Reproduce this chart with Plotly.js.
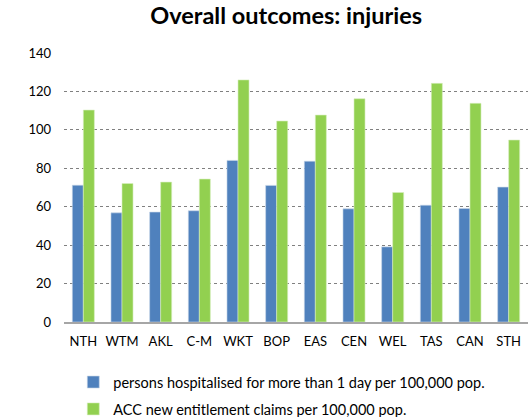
<!DOCTYPE html>
<html>
<head>
<meta charset="utf-8">
<script src="https://cdn.plot.ly/plotly-3.0.1.min.js"></script>
<style>
  body { margin: 0; padding: 0; background: #fff; }
  #chart { width: 529px; height: 417px; }
</style>
</head>
<body>
<div id="chart"></div>
<script>
// regions (DHB areas)
var regions = ["NTH", "WTM", "AKL", "C-M", "WKT", "BOP", "EAS", "CEN", "WEL", "TAS", "CAN", "STH"];

// persons hospitalised > 1 day per 100,000
var hospitalised = [71.2, 56.8, 57.2, 57.9, 84.1, 71.1, 83.7, 58.9, 39.1, 60.8, 59.1, 70.2];

// ACC new entitlement claims per 100,000
var accClaims = [110.3, 72.1, 72.8, 74.4, 126.0, 104.6, 107.7, 116.2, 67.4, 124.2, 113.8, 94.7];

var yTicks = [0, 20, 40, 60, 80, 100, 120, 140];

var font = "Lato, 'Open Sans', sans-serif";

var trace1 = {
    x: regions,
    y: hospitalised,
    type: "bar",
    name: "persons hospitalised for more than 1 day per 100,000 pop.",
    legendgroup: "a",
    marker: { color: "#4F81BD", line: { color: "#c9d6e8", width: 0.6 } }
};

var trace2 = {
    x: regions,
    y: accClaims,
    type: "bar",
    name: "ACC new entitlement claims per 100,000 pop.",
    legendgroup: "b",
    marker: { color: "#92D050", line: { color: "#d6eebf", width: 0.6 } }
};

var layout = {
    width: 529,
    height: 417,
    margin: { l: 64, r: 1, t: 53, b: 95, autoexpand: false },
    paper_bgcolor: "#fff",
    plot_bgcolor: "#fff",
    font: { family: font, size: 13, color: "#000" },
    title: {
        text: "<b>Overall outcomes: injuries</b>",
        font: { family: font, size: 23.5, color: "#000" },
        x: 0.541,
        xanchor: "center",
        y: 0.962,
        yanchor: "middle"
    },
    barmode: "group",
    bargap: 0.43,
    bargroupgap: 0,
    showlegend: true,
    legend: {
        orientation: "v",
        x: 0.02,
        xanchor: "left",
        y: -0.164,
        yanchor: "top",
        font: { family: font, size: 14.5, color: "#000" },
        traceorder: "grouped",
        tracegroupgap: 5,
        itemclick: false
    },
    xaxis: {
        showgrid: false,
        showline: true,
        linecolor: "#a6a6a6",
        linewidth: 2,
        ticks: "",
        tickfont: { family: font, size: 13 },
        ticklabelstandoff: 6
    },
    yaxis: {
        range: [0, 140],
        tickvals: yTicks,
        showgrid: true,
        gridcolor: "#808080",
        griddash: "dot",
        gridwidth: 1,
        zeroline: false,
        showline: false,
        ticks: "",
        tickfont: { family: font, size: 13 },
        ticklabelstandoff: 12
    }
};

Plotly.newPlot("chart", [trace1, trace2], layout, { displayModeBar: false, staticPlot: true });
</script>
</body>
</html>
